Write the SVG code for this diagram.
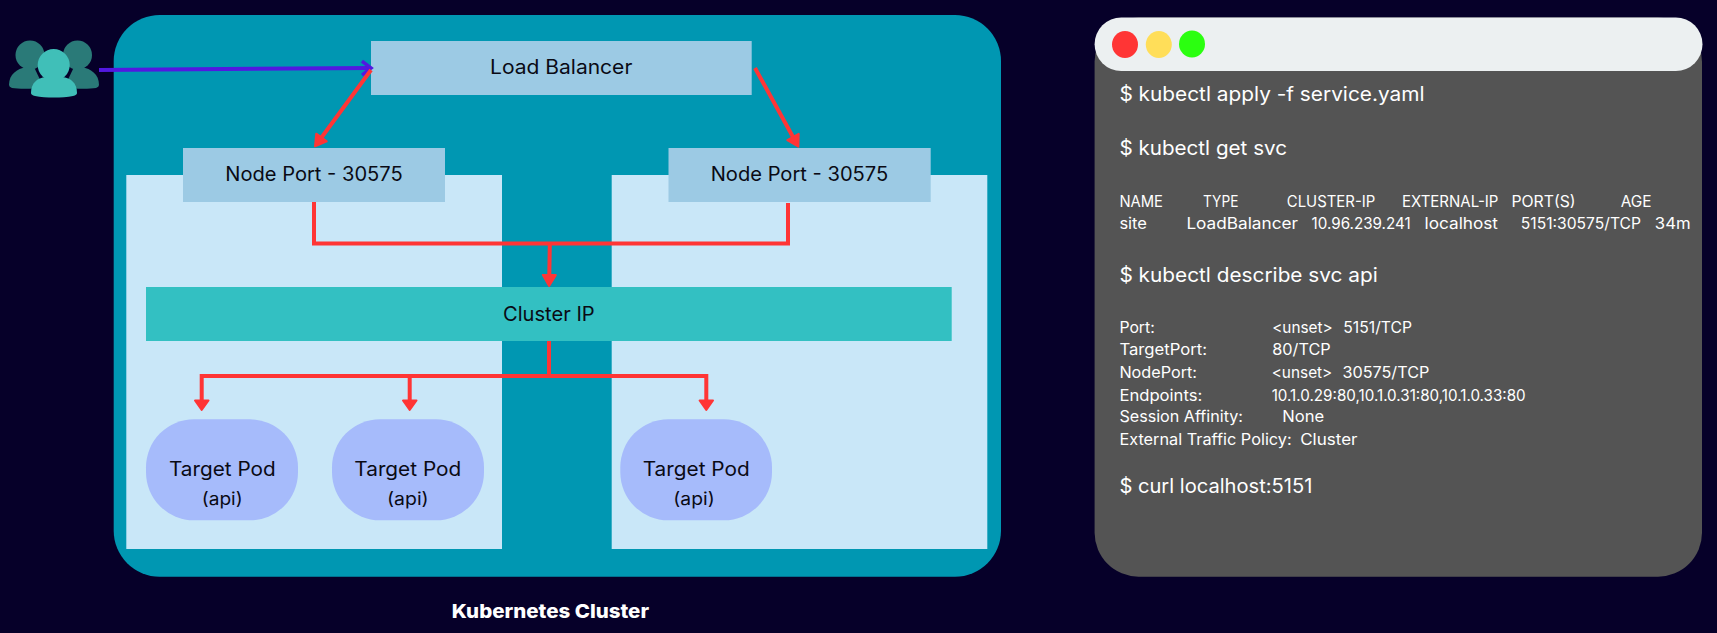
<svg xmlns="http://www.w3.org/2000/svg" width="1717" height="633" viewBox="0 0 1717 633">
<style>
text{font-family:"Inter","Liberation Sans",sans-serif;font-weight:400}
.n{font-size:19.5px;fill:#0a0a14}
.a{font-size:17.5px;fill:#0a0a14}
.b{font-size:19px;font-weight:800;fill:#fff}
.l{font-size:19.5px;fill:#fff}
.s{font-size:15.5px;fill:#fff}
.box{fill:#9ccae4}
.panel{fill:#c9e7f8}
.pod{fill:#a6bbfb}
.r{fill:none;stroke:#ff3535;stroke-width:4;stroke-linejoin:miter}
.h{fill:#ff3535;stroke:#ff3535;stroke-width:2;stroke-linejoin:round}
</style>
<defs>
<marker id="ah" markerUnits="userSpaceOnUse" markerWidth="22" markerHeight="22" viewBox="0 0 22 22" refX="3" refY="11" orient="auto">
<path d="M3 4.500 L14 11 L3 17.500Z" fill="#ff3535" stroke="#ff3535" stroke-width="2" stroke-linejoin="round"/>
</marker>
<marker id="ap" markerUnits="userSpaceOnUse" markerWidth="20" markerHeight="20" viewBox="0 0 20 20" refX="12" refY="10" orient="auto">
<path d="M3 3 L12 10 L3 17" fill="none" stroke="#5218e0" stroke-width="3.500"/>
</marker>
</defs>
<rect width="1717" height="633" fill="#060029"/>
<g id="cluster">
<rect x="113.700" y="15" width="887.300" height="561.700" rx="46" fill="#0097b2"/>
<text class="b" x="451.700" y="618" textLength="197.300" lengthAdjust="spacingAndGlyphs">Kubernetes Cluster</text>
</g>
<g id="panel-left"><rect class="panel" x="126.300" y="175" width="375.700" height="374"/></g>
<g id="panel-right"><rect class="panel" x="611.700" y="175" width="375.600" height="374"/></g>
<g id="users">
<g fill="#2a7a78">
<circle cx="30" cy="55" r="14.500"/>
<circle cx="77.500" cy="55" r="14.500"/>
<path d="M9 85 C9 74 17 69 26 67 L34 67 L44 88 C30 89 18 89 12 88 Q9 87 9 85Z"/>
<path d="M99 85 C99 74 91 69 82 67 L74 67 L64 88 C78 89 90 89 96 88 Q99 87 99 85Z"/>
</g>
<circle cx="53.700" cy="65" r="16" fill="#40bfb8"/>
<path d="M31 93 C31 83 37 78 46 77 L62 77 C71 78 77 83 77 93 Q77 95 73 96 C62 98 46 98 35 96 Q31 95 31 93Z" fill="#40bfb8"/>
</g>
<g id="load-balancer">
<rect class="box" x="371" y="41" width="380.700" height="54"/>
<text class="n" x="490" y="74" textLength="142.300" lengthAdjust="spacingAndGlyphs">Load Balancer</text>
</g>
<g id="node-port-left">
<rect class="box" x="183" y="148" width="262" height="54"/>
<text class="n" x="225.300" y="181" textLength="177.400" lengthAdjust="spacingAndGlyphs">Node Port - 30575</text>
</g>
<g id="node-port-right">
<rect class="box" x="668.500" y="148" width="262.200" height="54"/>
<text class="n" x="710.700" y="181" textLength="177.600" lengthAdjust="spacingAndGlyphs">Node Port - 30575</text>
</g>
<g id="cluster-ip">
<rect x="146" y="287" width="805.700" height="54" fill="#33c0c2"/>
<text class="n" x="503" y="321" textLength="91.700" lengthAdjust="spacingAndGlyphs">Cluster IP</text>
</g>
<g id="pod-1">
<rect class="pod" x="146" y="419.300" width="152" height="101" rx="48"/>
<text class="n" x="169" y="476" textLength="106.700" lengthAdjust="spacingAndGlyphs">Target Pod</text>
<text class="a" x="201.700" y="505" textLength="41" lengthAdjust="spacingAndGlyphs">(api)</text>
</g>
<g id="pod-2">
<rect class="pod" x="332" y="419.300" width="152" height="101" rx="48"/>
<text class="n" x="354.300" y="476" textLength="107" lengthAdjust="spacingAndGlyphs">Target Pod</text>
<text class="a" x="387" y="505" textLength="41.700" lengthAdjust="spacingAndGlyphs">(api)</text>
</g>
<g id="pod-3">
<rect class="pod" x="620.300" y="419.300" width="151.700" height="101" rx="48"/>
<text class="n" x="642.700" y="476" textLength="107" lengthAdjust="spacingAndGlyphs">Target Pod</text>
<text class="a" x="673.300" y="505" textLength="41.400" lengthAdjust="spacingAndGlyphs">(api)</text>
</g>
<g id="connectors">
<path d="M99 70 L371 68" fill="none" stroke="#5218e0" stroke-width="4" marker-end="url(#ap)"/>
<path class="r" d="M371 70 L321.500 137.500" marker-end="url(#ah)"/>
<path class="r" d="M755 68 L793 137" marker-end="url(#ah)"/>
<path class="r" d="M314 202 V243.500 H788 V203"/>
<path class="r" d="M549.800 243.500 L549.300 275" marker-end="url(#ah)"/>
<path class="r" d="M549 341 V376"/>
<path class="r" d="M201.700 400 V376 H706.300 V400"/>
<path class="r" d="M409.700 376 V400"/>
<path class="h" d="M195 400.500 H208.500 L201.700 410 Z"/>
<path class="h" d="M403 400.500 H416.500 L409.700 410 Z"/>
<path class="h" d="M699.600 400.500 H713 L706.300 410 Z"/>
</g>
<g id="terminal">
<rect x="1094.600" y="17.500" width="607.400" height="559.200" rx="44" fill="#545454"/>
<rect x="1094.600" y="17.500" width="607.900" height="53.500" rx="26.700" fill="#ecf0f1"/>
<ellipse cx="1125" cy="44.500" rx="13" ry="13.500" fill="#ff3535"/>
<ellipse cx="1158.800" cy="44.500" rx="13" ry="13.500" fill="#ffde59"/>
<ellipse cx="1192" cy="44" rx="13" ry="13.500" fill="#2bff10"/>
<text class="l" x="1119.400" y="101" textLength="305.100" lengthAdjust="spacingAndGlyphs">$ kubectl apply -f service.yaml</text>
<text class="l" x="1119.400" y="155" textLength="167.600" lengthAdjust="spacingAndGlyphs">$ kubectl get svc</text>
<text class="s" x="1119.400" y="206.700" textLength="43.600" lengthAdjust="spacingAndGlyphs">NAME</text>
<text class="s" x="1203" y="206.700" textLength="35.400" lengthAdjust="spacingAndGlyphs">TYPE</text>
<text class="s" x="1286.800" y="206.700" textLength="88.500" lengthAdjust="spacingAndGlyphs">CLUSTER-IP</text>
<text class="s" x="1402" y="206.700" textLength="96.400" lengthAdjust="spacingAndGlyphs">EXTERNAL-IP</text>
<text class="s" x="1511.400" y="206.700" textLength="64.200" lengthAdjust="spacingAndGlyphs">PORT(S)</text>
<text class="s" x="1620.700" y="206.700" textLength="30.900" lengthAdjust="spacingAndGlyphs">AGE</text>
<text class="s" x="1119.400" y="229.300" textLength="27.600" lengthAdjust="spacingAndGlyphs">site</text>
<text class="s" x="1186.400" y="229.300" textLength="111.600" lengthAdjust="spacingAndGlyphs">LoadBalancer</text>
<text class="s" x="1311.600" y="229.300" textLength="99.100" lengthAdjust="spacingAndGlyphs">10.96.239.241</text>
<text class="s" x="1424.500" y="229.300" textLength="73.500" lengthAdjust="spacingAndGlyphs">localhost</text>
<text class="s" x="1520.800" y="229.300" textLength="120.200" lengthAdjust="spacingAndGlyphs">5151:30575/TCP</text>
<text class="s" x="1654.800" y="229.300" textLength="35.800" lengthAdjust="spacingAndGlyphs">34m</text>
<text class="l" x="1119.400" y="282.300" textLength="258.400" lengthAdjust="spacingAndGlyphs">$ kubectl describe svc api</text>
<text class="s" x="1119.400" y="333.300" textLength="35.400" lengthAdjust="spacingAndGlyphs">Port:</text>
<text class="s" x="1272.200" y="333.300" textLength="60.500" lengthAdjust="spacingAndGlyphs">&lt;unset&gt;</text>
<text class="s" x="1343.300" y="333.300" textLength="68.700" lengthAdjust="spacingAndGlyphs">5151/TCP</text>
<text class="s" x="1119.400" y="355.300" textLength="87.600" lengthAdjust="spacingAndGlyphs">TargetPort:</text>
<text class="s" x="1272.200" y="355.300" textLength="58.500" lengthAdjust="spacingAndGlyphs">80/TCP</text>
<text class="s" x="1119.400" y="378.300" textLength="77.600" lengthAdjust="spacingAndGlyphs">NodePort:</text>
<text class="s" x="1271.700" y="378.300" textLength="60.600" lengthAdjust="spacingAndGlyphs">&lt;unset&gt;</text>
<text class="s" x="1342.400" y="378.300" textLength="87" lengthAdjust="spacingAndGlyphs">30575/TCP</text>
<text class="s" x="1119.400" y="401.300" textLength="82.900" lengthAdjust="spacingAndGlyphs">Endpoints:</text>
<text class="s" x="1271.700" y="401.300" textLength="254" lengthAdjust="spacingAndGlyphs">10.1.0.29:80,10.1.0.31:80,10.1.0.33:80</text>
<text class="s" x="1119.400" y="422.300" textLength="123.600" lengthAdjust="spacingAndGlyphs">Session Affinity:</text>
<text class="s" x="1282.300" y="422.300" textLength="41.900" lengthAdjust="spacingAndGlyphs">None</text>
<text class="s" x="1119.400" y="445" textLength="172.300" lengthAdjust="spacingAndGlyphs">External Traffic Policy:</text>
<text class="s" x="1300.200" y="445" textLength="57.300" lengthAdjust="spacingAndGlyphs">Cluster</text>
<text class="l" x="1119.400" y="492.700" textLength="193" lengthAdjust="spacingAndGlyphs">$ curl localhost:5151</text>
</g>
</svg>
